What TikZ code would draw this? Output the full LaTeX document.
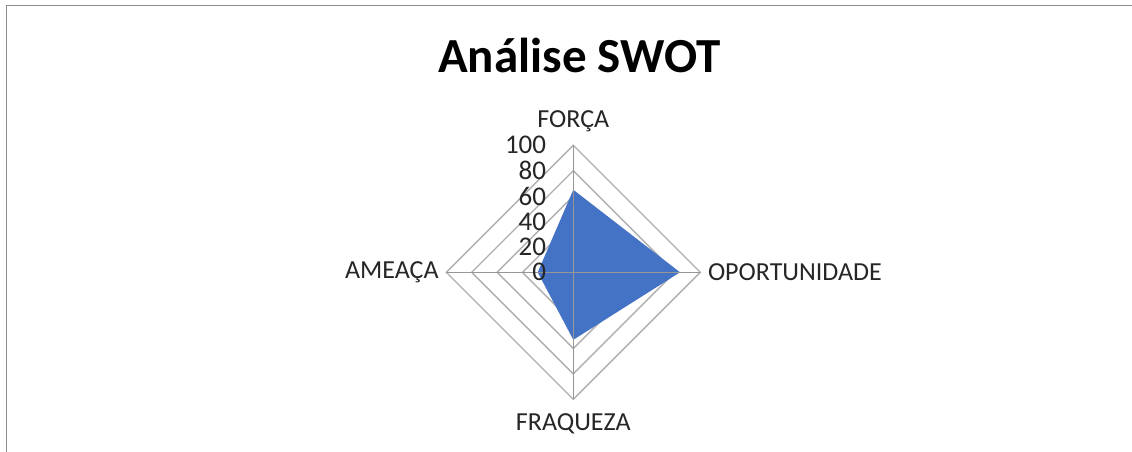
\documentclass[tikz,border=0pt]{standalone}
\usepackage{fontspec}
\setmainfont{Carlito}
\definecolor{frame}{RGB}{140,140,140}
\definecolor{gridc}{RGB}{175,175,175}
\definecolor{spokec}{RGB}{150,150,150}
\definecolor{fillc}{HTML}{4472C4}
\begin{document}
\begin{tikzpicture}[x=1pt,y=-1pt,
  ring/.style={draw=gridc,line width=1.4pt},
  spoke/.style={draw=spokec,line width=1.4pt},
  catlabel/.style={inner sep=0pt,font=\fontsize{26}{30}\selectfont,text=black!85},
  numlabel/.style={inner sep=0pt,anchor=east,font=\fontsize{27}{32}\selectfont,text=black!85},
  titlelabel/.style={inner sep=0pt,font=\bfseries\fontsize{49}{58}\selectfont}]
\useasboundingbox (0,0) rectangle (1132,452);
\fill[white] (0,0) rectangle (1132,452);
\draw[frame,line width=1.6pt] (6.5,460) -- (6.5,5.5) -- (1140,5.5);
\node[titlelabel] (title) at (579.5,55) {Análise SWOT};
\begin{scope}[shift={(573.3,272.3)}]
  \coordinate (O) at (0,0);
  \foreach \r in {25.4,50.8,76.2,101.6,127}
    \draw[ring] (0,-\r) -- (\r,0) -- (0,\r) -- (-\r,0) -- cycle;
  \coordinate (pF) at (0,-82.5);
  \coordinate (pO) at (106.7,0);
  \coordinate (pW) at (0,67.5);
  \coordinate (pA) at (-35.6,0);
  \fill[fillc] (pF) -- (pO) -- (pW) -- (pA) -- cycle;
  \coordinate (top) at (0,-127);
  \coordinate (bot) at (0,127);
  \coordinate (lft) at (-127,0);
  \coordinate (rgt) at (127,0);
  \draw[spoke] (top) -- (bot);
  \draw[spoke] (lft) -- (rgt);
  \foreach \v [count=\i from 0] in {0,20,40,60,80,100}
    \node[numlabel] (n\v) at (-27,{-\i*25.4}) {\v};
  \node[catlabel] (forca) at (0,-151) {FORÇA};
  \node[catlabel,anchor=east] (ameaca) at (-134.5,0) {AMEAÇA};
  \node[catlabel,anchor=west] (oport) at (134.5,0) {OPORTUNIDADE};
  \node[catlabel] (fraq) at (0,151) {FRAQUEZA};
\end{scope}
\end{tikzpicture}
\end{document}
